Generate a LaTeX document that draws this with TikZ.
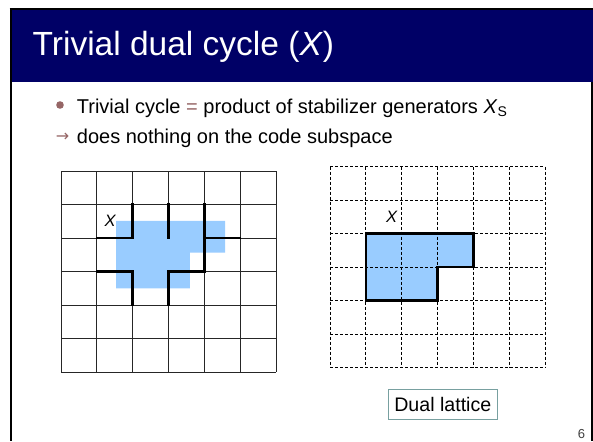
\documentclass[tikz,border=0pt]{standalone}
\usepackage{fontspec}
\setmainfont{Liberation Sans}
\newfontfamily\symfont{DejaVu Sans}
\definecolor{navy}{RGB}{0,0,102}
\definecolor{accent}{RGB}{150,102,102}
\definecolor{paleblue}{RGB}{153,204,255}
\definecolor{boxline}{RGB}{120,160,160}
\tikzset{
  gridline/.style={draw=black!85, line width=0.8pt},
  dualline/.style={draw=black, line width=0.8pt, dash pattern=on 3pt off 2pt},
  cycleline/.style={draw=black, line width=2.5pt, line cap=rect, line join=miter},
  txt/.style={inner sep=0pt, anchor=base west},
  lbl/.style={inner sep=0pt, font=\fontsize{16.5}{19}\selectfont\itshape},
}
\begin{document}
\begin{tikzpicture}[x=1pt,y=-1pt]
\useasboundingbox (0,0) rectangle (593,441);
\fill[white] (0,0) rectangle (593,441);
% title bar and frame
\fill[navy] (11,10.5) rectangle (592.5,82);
\draw[black, line width=2pt] (9.5,9.5) -- (593,9.5);
\draw[black, line width=2pt] (10.5,9) -- (10.5,441);
\draw[black, line width=1.5pt] (591.8,82) -- (591.8,441);
\node[txt, text=white, font=\fontsize{33.5}{40}\selectfont] (title) at (32.5,56) {Trivial dual cycle (\textit{X})};
% bullets
\fill[accent] (60,105) circle (3.8);
\node[txt, font=\fontsize{20}{24}\selectfont] (b1) at (76.7,113.3)
  {Trivial cycle {\color{accent}=} product of stabilizer generators \textit{X}\textsubscript{S}};
\node[inner sep=0pt, text=accent, font=\symfont\fontsize{16}{18}\selectfont] (arr) at (62.5,137.5) {→};
\node[txt, font=\fontsize{20}{24}\selectfont] (b2) at (76.7,143.3)
  {does nothing on the code subspace};
% left primal lattice
\begin{scope}[shift={(61,171)}, x=35.83pt, y=-33.5pt]
  \foreach \i in {0,...,6} {
    \draw[gridline] (\i,0) -- (\i,6);
    \draw[gridline] (0,\i) -- (6,\i);
  }
  \fill[paleblue] (1.54,1.49) -- (4.58,1.49) -- (4.58,2.44) -- (3.6,2.44) -- (3.6,3.5) -- (1.54,3.5) -- cycle;
  \draw[cycleline] (1,2) -- (2,2) -- (2,1);
  \draw[cycleline] (3,1) -- (3,2);
  \draw[cycleline] (4,1) -- (4,3) -- (3,3) -- (3,4);
  \draw[cycleline] (4,2) -- (5,2);
  \draw[cycleline] (1,3) -- (2,3) -- (2,4);
  \node[lbl] (xl) at (1.37,1.5) {X};
\end{scope}
% right dual lattice
\begin{scope}[shift={(330,166.7)}, x=35.83pt, y=-33.5pt]
  \fill[paleblue] (1,2) -- (4,2) -- (4,3) -- (3,3) -- (3,4) -- (1,4) -- cycle;
  \foreach \i in {0,...,6} {
    \draw[dualline] (\i,0) -- (\i,6);
    \draw[dualline] (0,\i) -- (6,\i);
  }
  \draw[cycleline] (1,2) -- (4,2) -- (4,3) -- (3,3) -- (3,4) -- (1,4) -- cycle;
  \node[lbl] (xr) at (1.72,1.51) {X};
\end{scope}
% label box
\node[draw=boxline, line width=0.8pt, minimum width=109pt, minimum height=30pt, inner sep=0pt,
      font=\fontsize{19.6}{23}\selectfont] (dual) at (442.8,404.3) {Dual lattice};
\node[inner sep=0pt, text=black!75, font=\fontsize{13}{15}\selectfont] (page) at (581.5,434.3) {6};
\end{tikzpicture}
\end{document}
